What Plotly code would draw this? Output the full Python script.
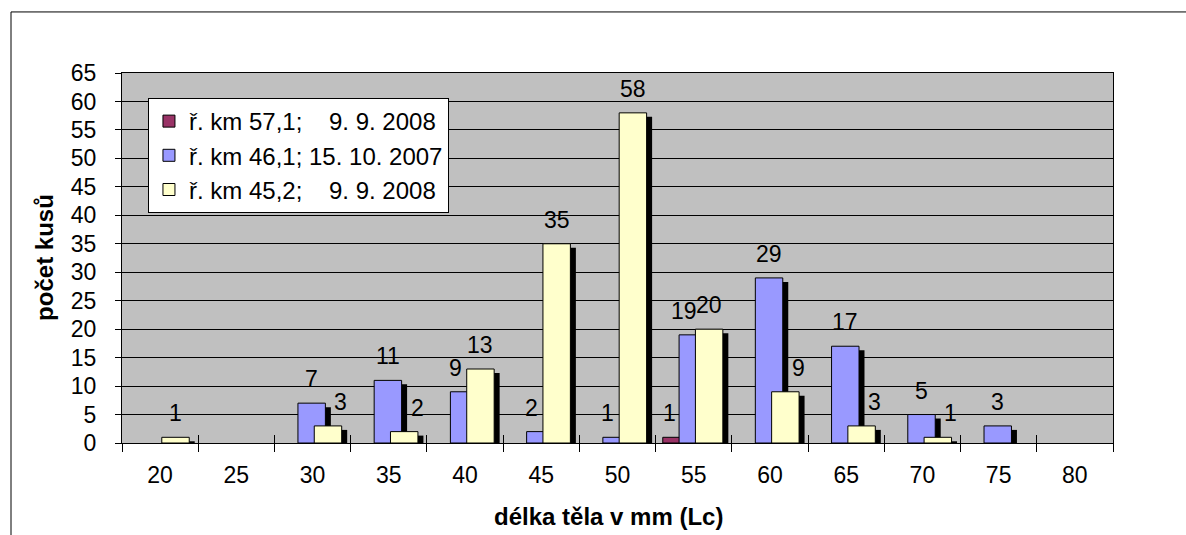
import plotly.graph_objects as go

# Body length classes (mm, Lc) and counts per sampling site
lengths = [20, 25, 30, 35, 40, 45, 50, 55, 60, 65, 70, 75, 80]
site_571 = [0, 0, 0, 0, 0, 0, 0, 1, 0, 0, 0, 0, 0]
site_461 = [0, 0, 7, 11, 9, 2, 1, 19, 29, 17, 5, 3, 0]
site_452 = [1, 0, 3, 2, 13, 35, 58, 20, 9, 3, 1, 0, 0]

series_names = [
    "ř. km 57,1;\u00a0\u00a0\u00a0\u00a09. 9. 2008",
    "ř. km 46,1; 15. 10. 2007",
    "ř. km 45,2;\u00a0\u00a0\u00a0\u00a09. 9. 2008",
]
series_colors = ["#993366", "#9999FF", "#FFFFCC"]
series_values = [site_571, site_461, site_452]

# Overlapping bar layout (axis units; one class = 5 units)
BAR_W = 1.8
OFFSETS = [-2.03, -0.96, 0.11]
SHADOW_DX = 0.36
SHADOW_DY = 0.7

FONT = "Liberation Sans, Arial, sans-serif"

fig = go.Figure()

for name, color, vals, off in zip(series_names, series_colors, series_values, OFFSETS):
    xs = [x for x, v in zip(lengths, vals) if v > 0]
    ys = [v for v in vals if v > 0]
    # drop shadow
    fig.add_trace(go.Bar(
        x=xs, y=ys, base=[-SHADOW_DY] * len(ys), width=BAR_W, offset=off + SHADOW_DX,
        marker=dict(color="black", line=dict(width=0)),
        showlegend=False, hoverinfo="skip",
    ))
    fig.add_trace(go.Bar(
        x=xs, y=ys, width=BAR_W, offset=off, name=name,
        marker=dict(color=color, line=dict(color="black", width=1)),
    ))

# Empty trace that makes the class-boundary tick axis render
fig.add_trace(go.Scatter(x=[], y=[], xaxis="x2", yaxis="y",
                         showlegend=False, hoverinfo="skip"))

# Value labels; the label of a lower bar sitting next to a taller one is nudged aside
annotations = []
for i, x in enumerate(lengths):
    r, b, y = site_571[i], site_461[i], site_452[i]
    entries = []
    if r > 0:
        entries.append((r, OFFSETS[0], -7 if r < b else 0))
    if b > 0:
        entries.append((b, OFFSETS[1], -9 if b < y else 0))
    if y > 0:
        entries.append((y, OFFSETS[2], 13 if y < b else 0))
    for v, off, dx in entries:
        annotations.append(dict(
            x=x + off + BAR_W / 2, y=v, xref="x", yref="y",
            text=str(v), showarrow=False, xshift=dx, yshift=9,
            yanchor="bottom", xanchor="center",
            font=dict(family=FONT, size=23, color="black"),
        ))

annotations.append(dict(
    text="<b>délka těla v mm (Lc)</b>", xref="paper", yref="paper",
    x=0.4914, y=-0.198, xanchor="center", yanchor="middle", showarrow=False,
    font=dict(family=FONT, size=24, color="black"),
))
annotations.append(dict(
    text="<b>počet kusů</b>", xref="paper", yref="paper",
    x=-0.0777, y=0.503, xanchor="center", yanchor="middle", showarrow=False,
    textangle=-90, font=dict(family=FONT, size=24, color="black"),
))

boundaries = [v - 2.5 for v in lengths] + [lengths[-1] + 2.5]
x_range = [lengths[0] - 2.5, lengths[-1] + 2.5]

fig.update_layout(
    width=1186, height=535,
    margin=dict(l=122, r=73, t=73, b=92),
    paper_bgcolor="white", plot_bgcolor="#C0C0C0",
    barmode="overlay",
    font=dict(family=FONT, size=23, color="black"),
    annotations=annotations,
    legend=dict(
        x=0.0262, y=0.9324, xanchor="left", yanchor="top",
        bgcolor="white", bordercolor="black", borderwidth=1,
        font=dict(family=FONT, size=24, color="black"),
        traceorder="normal",
    ),
    xaxis=dict(
        range=x_range, tickmode="array", tickvals=lengths,
        ticktext=[str(v) for v in lengths], ticks="",
        showgrid=False, zeroline=False,
        showline=True, linecolor="black", linewidth=1, mirror=True,
        ticklabelstandoff=11,
        minor=dict(tickmode="array", tickvals=boundaries, ticks="outside",
                   ticklen=8, tickcolor="black", tickwidth=1, showgrid=False),
    ),
    xaxis2=dict(
        overlaying="x", anchor="y", side="bottom", range=x_range,
        tickmode="array", tickvals=boundaries, ticks="inside", ticklen=8,
        tickcolor="black", showticklabels=False, showgrid=False,
        zeroline=False, showline=False,
    ),
    yaxis=dict(
        range=[0, 65], tickmode="linear", tick0=0, dtick=5,
        ticks="outside", ticklen=6, tickcolor="black",
        showgrid=True, gridcolor="black", gridwidth=1, zeroline=False,
        showline=True, linecolor="black", linewidth=1, mirror=True,
        ticklabelstandoff=14,
    ),
    shapes=[dict(
        type="rect", xref="paper", yref="paper",
        x0=-0.112, x1=1.2, y0=-0.5, y1=1.165,
        line=dict(color="black", width=1), fillcolor="rgba(0,0,0,0)", layer="below",
    )],
)

fig.write_html("out.html")
